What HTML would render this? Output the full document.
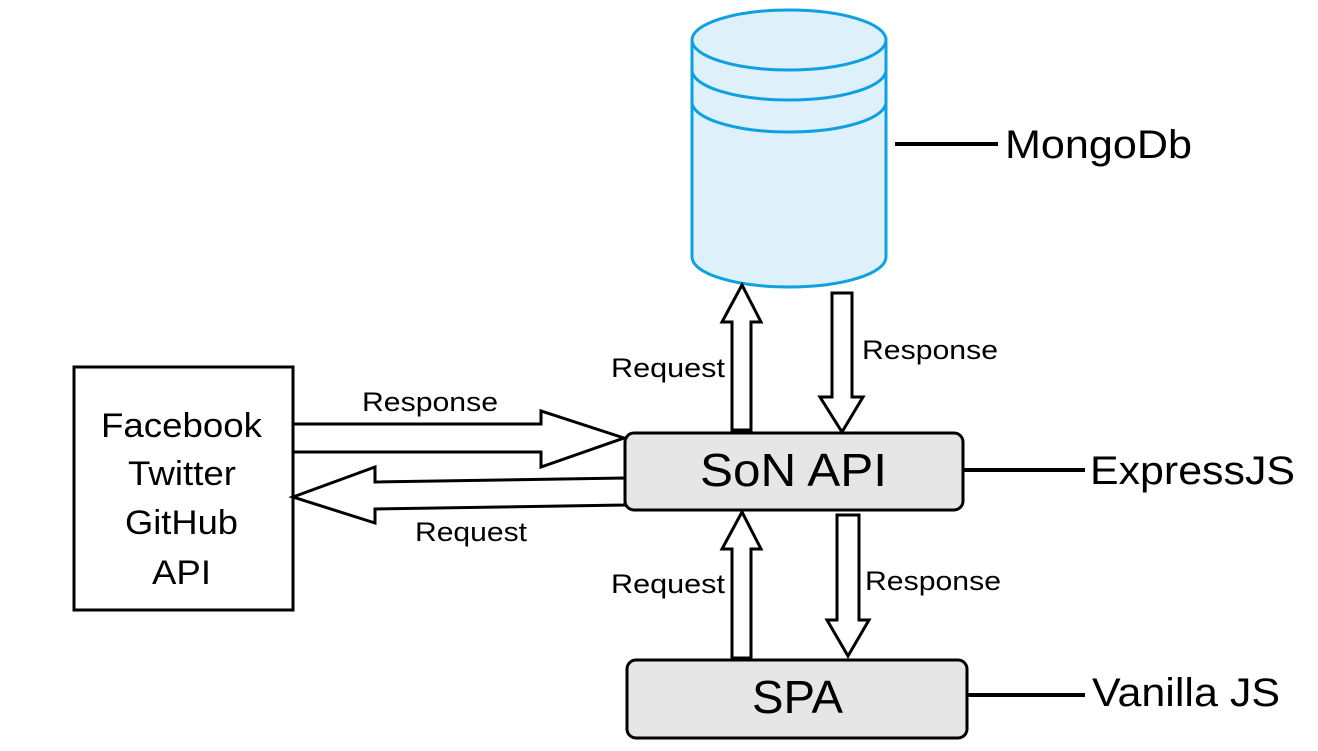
<!DOCTYPE html>
<html><head><style>html,body{margin:0;padding:0;background:#fff;}svg{display:block;}</style></head>
<body>
<svg width="1318" height="751" viewBox="0 0 1318 751" xmlns="http://www.w3.org/2000/svg" font-family="Liberation Sans, sans-serif">
<g stroke="#0ea0e0" stroke-width="3" fill="#def1fb">
<path d="M692,40 L692,257 A97,30 0 0 0 886,257 L886,40 Z"/>
<ellipse cx="789" cy="40" rx="97" ry="30"/>
<path d="M692,70 A97,30 0 0 0 886,70" fill="none"/>
<path d="M692,102 A97,30 0 0 0 886,102" fill="none"/>
</g>
<g stroke="#000" stroke-width="4">
<line x1="895" y1="144" x2="998" y2="144"/>
<line x1="963" y1="470" x2="1085" y2="470"/>
<line x1="967" y1="695" x2="1085" y2="695"/>
</g>
<rect x="74" y="367" width="219" height="243" fill="#fff" stroke="#000" stroke-width="3"/>
<rect x="625" y="433" width="338" height="77" rx="9" fill="#e6e6e6" stroke="#000" stroke-width="3"/>
<rect x="627" y="660" width="340" height="78" rx="9" fill="#e6e6e6" stroke="#000" stroke-width="3"/>
<g fill="#fff" stroke="#000" stroke-width="3" stroke-linejoin="miter">
<polygon points="732,430 732,322 722,322 742,285 761,322 751,322 751,430"/>
<polygon points="832,293 852,293 852,397 863,397 842,432 820,397 832,397"/>
<polygon points="293,424 541,424 541,411 624,438 541,467 541,452 293,452"/>
<polygon points="625,478 375,482 375,467 293,497 375,523 375,509 625,505"/>
<polygon points="732,658 732,549 722,549 742,512 761,549 751,549 751,658"/>
<polygon points="837,515 859,515 859,620 869,620 848,656 827,620 837,620"/>
</g>
<g fill="#000" lengthAdjust="spacingAndGlyphs">
<text x="1005" y="158" font-size="40" textLength="187" lengthAdjust="spacingAndGlyphs">MongoDb</text>
<text x="1090" y="484" font-size="40" textLength="205" lengthAdjust="spacingAndGlyphs">ExpressJS</text>
<text x="1092" y="706" font-size="40" textLength="188" lengthAdjust="spacingAndGlyphs">Vanilla JS</text>
<text x="700" y="486" font-size="46" textLength="187" lengthAdjust="spacingAndGlyphs">SoN API</text>
<text x="752" y="713" font-size="46" textLength="91" lengthAdjust="spacingAndGlyphs">SPA</text>
<g font-size="34">
<text x="101" y="437" textLength="161" lengthAdjust="spacingAndGlyphs">Facebook</text>
<text x="128" y="485" textLength="108" lengthAdjust="spacingAndGlyphs">Twitter</text>
<text x="125" y="534" textLength="113" lengthAdjust="spacingAndGlyphs">GitHub</text>
<text x="152" y="584" textLength="59" lengthAdjust="spacingAndGlyphs">API</text>
</g>
<g font-size="27">
<text x="611" y="377" textLength="114" lengthAdjust="spacingAndGlyphs">Request</text>
<text x="862" y="359" textLength="136" lengthAdjust="spacingAndGlyphs">Response</text>
<text x="362" y="411" textLength="136" lengthAdjust="spacingAndGlyphs">Response</text>
<text x="415" y="541" textLength="112" lengthAdjust="spacingAndGlyphs">Request</text>
<text x="611" y="593" textLength="114" lengthAdjust="spacingAndGlyphs">Request</text>
<text x="865" y="590" textLength="136" lengthAdjust="spacingAndGlyphs">Response</text>
</g>
</g>
</svg>
</body></html>
